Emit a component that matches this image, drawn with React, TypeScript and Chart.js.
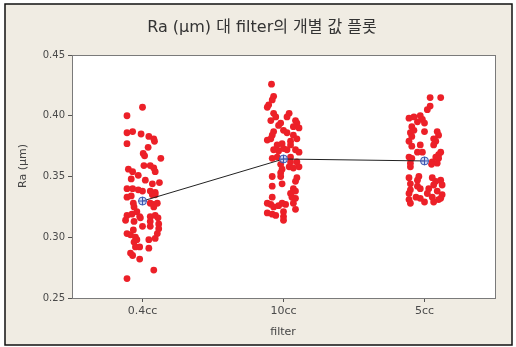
import React, { useEffect, useRef } from "react";
import { Chart, registerables } from "chart.js";

Chart.register(...registerables);

const categories = ["0.4cc", "10cc", "5cc"];
const yTicks = [0.25, 0.3, 0.35, 0.4, 0.45];
const chartTitle = "Ra (μm) 대 filter의 개별 값 플롯";
const yTitle = "Ra (μm)";
const xTitle = "filter";

const g04Values = [
  0.407, 0.4, 0.386, 0.387, 0.385, 0.383, 0.381, 0.379, 0.377, 0.374, 0.369, 0.367,
  0.365, 0.359, 0.359, 0.357, 0.354, 0.356, 0.354, 0.351, 0.348, 0.347, 0.344, 0.345,
  0.34, 0.34, 0.339, 0.338, 0.338, 0.337, 0.333, 0.334, 0.335, 0.335, 0.328, 0.325,
  0.328, 0.327, 0.328, 0.325, 0.314, 0.318, 0.319, 0.321, 0.317, 0.316, 0.313, 0.317,
  0.318, 0.316, 0.311, 0.313, 0.303, 0.302, 0.3, 0.306, 0.309, 0.309, 0.303, 0.307,
  0.296, 0.298, 0.298, 0.299, 0.292, 0.292, 0.291, 0.287, 0.285, 0.282, 0.273, 0.266,
];
const g04Jitter = [
  0.0, -0.11, -0.11, -0.07, -0.01, 0.045, 0.08, 0.085, -0.11, 0.04, 0.005, 0.015,
  0.13, 0.01, 0.055, 0.08, 0.09, -0.1, -0.07, -0.03, -0.08, 0.02, 0.07, 0.12,
  -0.11, -0.07, -0.03, 0.0, 0.055, 0.09, -0.11, -0.08, 0.07, 0.09, -0.065, -0.06,
  0.055, 0.08, 0.105, 0.08, -0.12, -0.11, -0.075, -0.04, -0.02, -0.015, -0.06, 0.055,
  0.09, 0.11, 0.115, 0.055, -0.11, -0.085, -0.05, -0.065, 0.0, 0.055, 0.105, 0.115,
  -0.06, -0.04, 0.045, 0.09, -0.05, -0.02, 0.045, -0.085, -0.07, -0.02, 0.08, -0.11,
];

const g10Values = [
  0.426, 0.416, 0.413, 0.409, 0.407, 0.402, 0.399, 0.402, 0.399, 0.396, 0.394, 0.392,
  0.396, 0.394, 0.391, 0.39, 0.387, 0.384, 0.388, 0.386, 0.38, 0.381, 0.384, 0.381,
  0.376, 0.377, 0.379, 0.376, 0.372, 0.371, 0.373, 0.372, 0.372, 0.37, 0.365, 0.366,
  0.366, 0.362, 0.362, 0.358, 0.358, 0.357, 0.36, 0.356, 0.35, 0.353, 0.35, 0.349,
  0.346, 0.342, 0.344, 0.34, 0.338, 0.333, 0.336, 0.333, 0.332, 0.328, 0.327, 0.325,
  0.326, 0.328, 0.327, 0.328, 0.323, 0.32, 0.319, 0.318, 0.321, 0.317, 0.314,
];
const g10Jitter = [
  -0.085, -0.07, -0.08, -0.105, -0.115, -0.07, -0.055, 0.04, 0.025, -0.09, -0.02, -0.035,
  0.085, 0.095, 0.07, 0.11, -0.07, -0.08, 0.0, 0.025, -0.115, -0.09, 0.07, 0.095,
  -0.045, -0.01, 0.05, 0.05, -0.07, -0.035, 0.0, 0.025, 0.085, 0.11, -0.08, -0.045,
  0.05, 0.05, 0.095, 0.11, 0.04, 0.07, -0.02, -0.01, -0.08, -0.02, -0.02, 0.095,
  0.085, -0.08, -0.01, 0.07, 0.085, -0.08, 0.05, 0.06, 0.085, -0.115, -0.09, -0.07,
  -0.035, -0.01, 0.015, 0.07, 0.085, -0.115, -0.08, -0.055, 0.0, 0.0, 0.0,
];

const g5Values = [
  0.415, 0.415, 0.408, 0.405, 0.399, 0.398, 0.4, 0.397, 0.395, 0.394, 0.391, 0.388,
  0.387, 0.387, 0.384, 0.386, 0.383, 0.381, 0.379, 0.376, 0.376, 0.379, 0.375, 0.37,
  0.368, 0.366, 0.37, 0.37, 0.366, 0.365, 0.361, 0.358, 0.362, 0.36, 0.365, 0.361,
  0.35, 0.347, 0.349, 0.344, 0.349, 0.346, 0.343, 0.347, 0.343, 0.342, 0.34, 0.339,
  0.336, 0.34, 0.336, 0.338, 0.335, 0.333, 0.332, 0.333, 0.329, 0.331, 0.328, 0.329,
  0.331, 0.332,
];
const g5Jitter = [
  0.04, 0.115, 0.04, 0.02, -0.075, -0.11, -0.03, -0.015, -0.05, 0.0, -0.09, -0.075,
  0.0, 0.09, 0.1, -0.1, -0.09, 0.065, 0.08, 0.065, -0.03, -0.11, -0.09, 0.115,
  0.1, 0.08, -0.05, -0.015, -0.11, -0.09, -0.1, -0.1, 0.055, 0.05, 0.1, 0.09,
  -0.04, -0.05, -0.11, -0.1, 0.055, 0.08, 0.065, 0.115, 0.125, -0.05, -0.03, -0.1,
  -0.11, 0.03, 0.02, 0.09, 0.125, -0.06, -0.03, 0.055, 0.065, -0.11, -0.1, 0.0,
  0.1, 0.115,
];

const groupMeans = [0.3298, 0.3644, 0.3628];

const FONT = "'DejaVu Sans', 'Noto Sans CJK KR', sans-serif";

export default function App() {
  const ref = useRef<HTMLCanvasElement | null>(null);

  useEffect(() => {
    const canvas = ref.current;
    if (!canvas) return;

    const groups = [
      [g04Values, g04Jitter],
      [g10Values, g10Jitter],
      [g5Values, g5Jitter],
    ];
    const points: { x: number; y: number }[] = [];
    groups.forEach(([vals, jit], gi) => {
      vals.forEach((v, i) => points.push({ x: gi + jit[i], y: v }));
    });
    const meanPts = groupMeans.map((m, i) => ({ x: i, y: m }));

    const frame = {
      id: "frame",
      beforeDraw(chart: any) {
        const { ctx, width, height, chartArea } = chart;
        ctx.save();
        ctx.fillStyle = "#ffffff";
        ctx.fillRect(0, 0, width, height);
        ctx.fillStyle = "rgb(240,236,227)";
        ctx.fillRect(5, 4, 507, 341);
        ctx.strokeStyle = "#111";
        ctx.lineWidth = 1.5;
        ctx.strokeRect(5, 4, 507, 341);
        ctx.fillStyle = "#ffffff";
        ctx.fillRect(chartArea.left, chartArea.top, chartArea.right - chartArea.left, chartArea.bottom - chartArea.top);
        ctx.restore();
      },
      afterDraw(chart: any) {
        const { ctx, chartArea } = chart;
        ctx.save();
        ctx.strokeStyle = "#7a7a7a";
        ctx.lineWidth = 1;
        ctx.strokeRect(
          Math.round(chartArea.left) + 0.5,
          Math.round(chartArea.top) + 0.5,
          Math.round(chartArea.right - chartArea.left),
          Math.round(chartArea.bottom - chartArea.top)
        );
        ctx.fillStyle = "#333";
        ctx.textAlign = "center";
        ctx.textBaseline = "alphabetic";
        ctx.font = `16px ${FONT}`;
        ctx.fillText(chartTitle, 262, 32);
        ctx.font = `11px ${FONT}`;
        ctx.fillStyle = "#444";
        ctx.textBaseline = "middle";
        ctx.fillText(xTitle, 283, 332);
        ctx.translate(23, 166);
        ctx.rotate(-Math.PI / 2);
        ctx.fillText(yTitle, 0, 0);
        ctx.restore();
      },
    };

    const chart = new Chart(canvas, {
      type: "scatter",
      data: {
        datasets: [
          {
            label: "mean-cross",
            data: meanPts,
            pointStyle: "cross",
            pointRadius: 4,
            borderColor: "#3a55b0",
            borderWidth: 1,
            showLine: false,
            order: 0,
          } as any,
          {
            label: "mean-circle",
            data: meanPts,
            pointStyle: "circle",
            pointRadius: 4,
            borderColor: "#3a55b0",
            backgroundColor: "rgba(160,180,235,0.55)",
            borderWidth: 1,
            showLine: false,
            order: 1,
          },
          {
            label: "mean-line",
            data: meanPts,
            showLine: true,
            pointRadius: 0,
            borderColor: "#222",
            borderWidth: 1,
            order: 2,
          },
          {
            label: "Ra",
            data: points,
            pointStyle: "circle",
            pointRadius: 3.4,
            borderWidth: 0,
            backgroundColor: "#ec2028",
            borderColor: "#ec2028",
            order: 3,
          },
        ],
      },
      options: {
        responsive: false,
        animation: false,
        events: [],
        layout: { padding: { left: 0, top: 55, right: 21, bottom: 0 } },
        plugins: {
          legend: { display: false },
          tooltip: { enabled: false },
          title: { display: false },
        },
        scales: {
          x: {
            type: "linear",
            min: -0.5,
            max: 2.5,
            afterBuildTicks: (scale: any) => {
              scale.ticks = categories.map((_, i) => ({ value: i }));
            },
            afterFit: (scale: any) => {
              scale.height = 49;
            },
            grid: { display: true, drawOnChartArea: false, drawTicks: true, tickLength: 4, color: "#555" },
            border: { display: false },
            ticks: {
              autoSkip: false,
              maxRotation: 0,
              padding: 3,
              color: "#4a4a4a",
              font: { family: FONT, size: 11 },
              callback: (v: any) => categories[Math.round(Number(v))] ?? "",
            },
          },
          y: {
            type: "linear",
            min: yTicks[0],
            max: yTicks[yTicks.length - 1],
            afterBuildTicks: (scale: any) => {
              scale.ticks = yTicks.map((v) => ({ value: v }));
            },
            afterFit: (scale: any) => {
              scale.width = 72;
            },
            grid: { display: true, drawOnChartArea: false, drawTicks: true, tickLength: 4, color: "#555" },
            border: { display: false },
            ticks: {
              padding: 3,
              color: "#4a4a4a",
              font: { family: FONT, size: 10 },
              callback: (v: any) => Number(v).toFixed(2),
            },
          },
        },
      },
      plugins: [frame],
    });

    return () => chart.destroy();
  }, []);

  return (
    <div style={{ position: "absolute", left: 0, top: 0, width: 516, height: 347 }}>
      <canvas ref={ref} width={516} height={347} style={{ display: "block" }} />
    </div>
  );
}
